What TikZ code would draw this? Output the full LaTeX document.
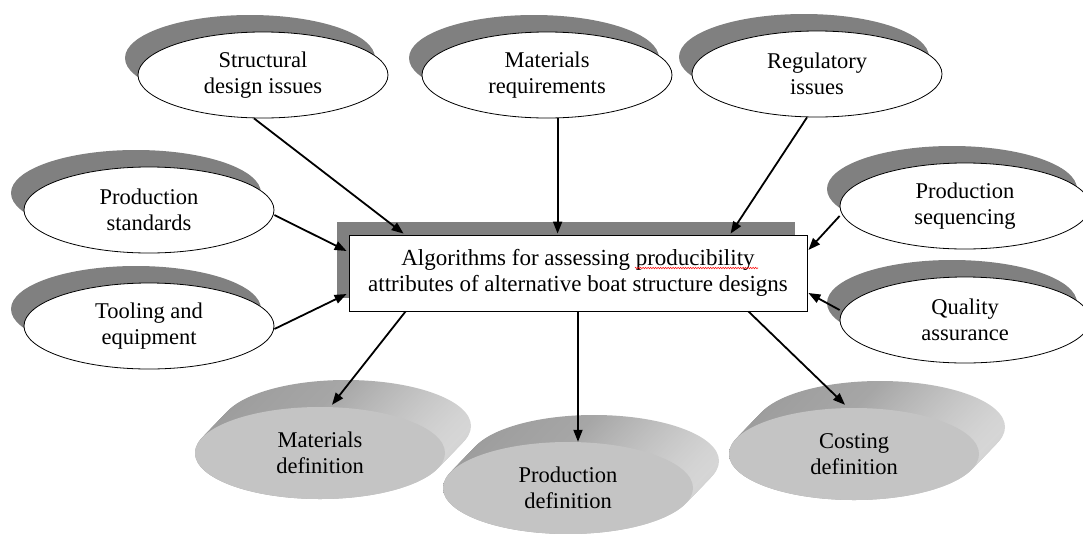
\documentclass[tikz,border=0pt]{standalone}
\usepackage{fontspec}
\setmainfont{Liberation Serif}
\newfontfamily\diagfont{Liberation Serif}
\usetikzlibrary{shapes.geometric,shadows,arrows.meta,decorations.pathmorphing,calc}
\definecolor{shadowgray}{HTML}{808080}
\definecolor{sidedark}{HTML}{9C9C9C}
\definecolor{sidemid}{HTML}{A6A6A6}
\definecolor{sidelight}{HTML}{D6D6D6}
\definecolor{facegray}{HTML}{C4C4C4}
\newcommand\myextrude[2]{%
  \foreach \t in {26,25,...,0}{%
    \shade[left color=sidedark,right color=sidelight,middle color=sidemid]
      (#1+\t,#2-\t*27/26) ellipse [x radius=125pt,y radius=46pt];
  }}
\tikzset{
  txt/.style={font=\diagfont\fontsize{22.5}{25.5}\selectfont, align=center, inner sep=0pt},
  wellipse/.style={txt, ellipse, draw=black, line width=0.8pt, fill=white,
    minimum width=250pt, minimum height=86pt,
    general shadow={fill=shadowgray, shadow xshift=-13pt, shadow yshift=17pt}},
  diskface/.style={txt, ellipse, fill=facegray, minimum width=250pt, minimum height=92pt},
  mainbox/.style={font=\diagfont\fontsize{23}{25.5}\selectfont, align=center, inner sep=0pt,
    rectangle, draw=black, line width=0.8pt, fill=white,
    minimum width=458pt, minimum height=76pt,
    general shadow={fill=shadowgray, shadow xshift=-12pt, shadow yshift=13pt}},
  arr/.style={line width=1.8pt, -{Triangle[length=12pt,width=9pt]}},
}
\begin{document}
\begin{tikzpicture}[x=1pt,y=-1pt]
\fill[white] (0,0) rectangle (1083,533);
\useasboundingbox (0,0) rectangle (1083,533);

% 3D output disks
\myextrude{320}{453}
\node[diskface] (matdef) at (320,453) {Materials\\definition};
\myextrude{568}{488}
\node[diskface] (proddef) at (568,488) {Production\\definition};
\myextrude{854}{454}
\node[diskface] (costdef) at (854,454) {Costing\\definition};

% input ellipses
\node[wellipse] (struct) at (263,75) {Structural\\design issues};
\node[wellipse] (matreq) at (547,75) {Materials\\requirements};
\node[wellipse] (reg) at (817,74) {Regulatory\\issues};
\node[wellipse] (prodstd) at (149,210) {Production\\standards};
\node[wellipse] (tooling) at (149,326) {Tooling and\\equipment};
\node[wellipse] (prodseq) at (965,206) {Production\\sequencing};
\node[wellipse] (quality) at (965,320) {Quality\\assurance};

% central box
\node[mainbox] (box) at (578,273) {Algorithms for assessing producibility\\attributes of alternative boat structure designs};
\draw[red, line width=0.6pt, decorate, decoration={zigzag, segment length=2.5pt, amplitude=0.7pt}]
  ([xshift=57pt,yshift=5pt]box.center) -- ([xshift=180pt,yshift=5pt]box.center);

% connectors
\coordinate (tipS) at ([xshift=55pt,yshift=1pt]box.north west);
\coordinate (tipM) at ([xshift=209pt,yshift=1pt]box.north west);
\coordinate (tipR) at ([xshift=382pt,yshift=1pt]box.north west);
\draw[arr] ([xshift=-9pt]struct.south) -- (tipS);
\draw[arr] (tipM |- matreq.south) -- (tipM);
\draw[arr] ([xshift=-10pt]reg.south) -- (tipR);
\draw[arr] ([yshift=-5pt]prodstd.east) -- ([xshift=-2pt,yshift=22pt]box.west);
\draw[arr] ([yshift=-3pt]tooling.east) -- ([xshift=-2pt,yshift=-21pt]box.west);
\draw[arr] ([yshift=-10pt]prodseq.west) -- ([xshift=1pt,yshift=23pt]box.east);
\draw[arr] ([yshift=10pt]quality.west) -- ([xshift=1pt,yshift=-20pt]box.east);
\draw[arr] ([xshift=57pt]box.south west) -- ([xshift=12pt,yshift=2pt]matdef.north);
\draw[arr] (box.south) -- (box.south |- proddef.north);
\draw[arr] ([xshift=-59pt]box.south east) -- ([xshift=-9pt,yshift=3pt]costdef.north);
\end{tikzpicture}
\end{document}
